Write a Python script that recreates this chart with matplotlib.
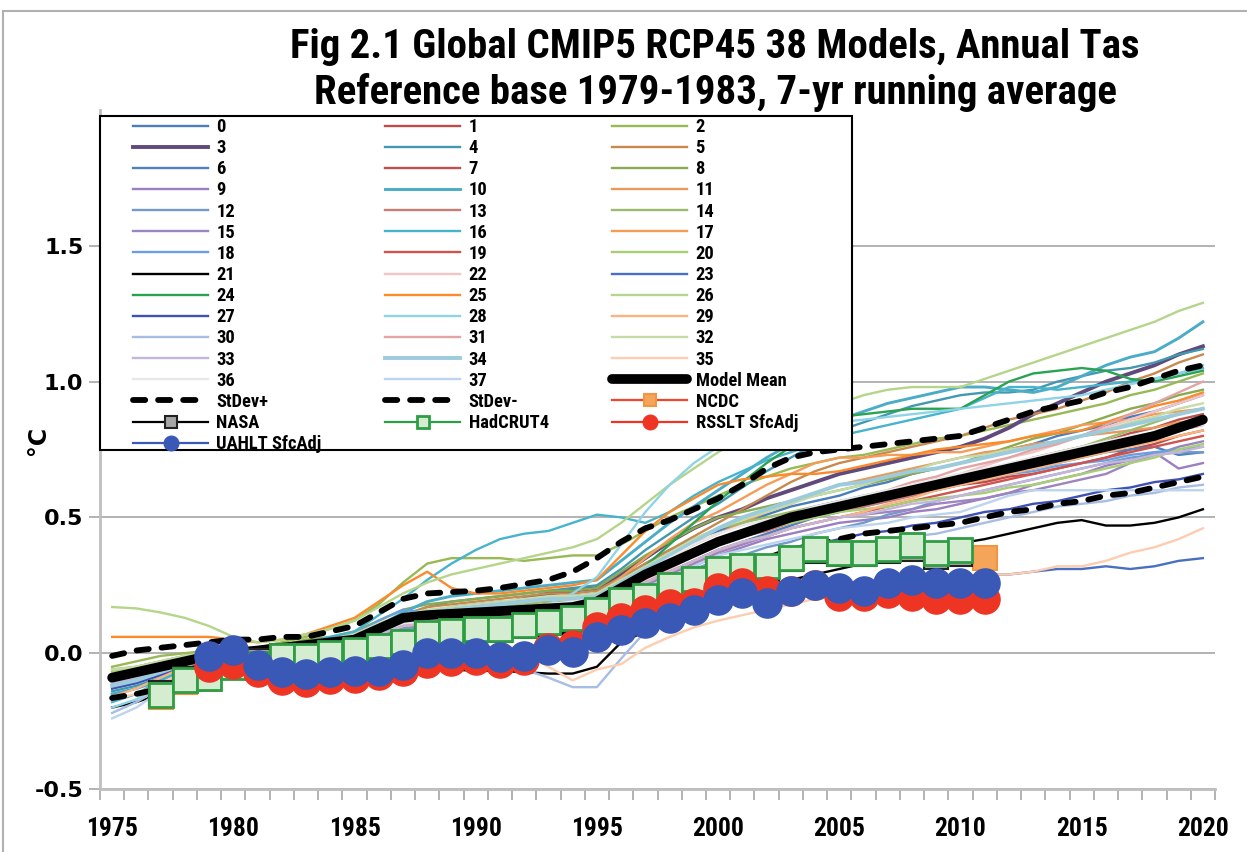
# Fig 2.1 Global CMIP5 RCP45 38 models vs observations
import numpy as np
import matplotlib
matplotlib.use('Agg')
import matplotlib.pyplot as plt
from matplotlib import font_manager
from matplotlib.patches import Rectangle
from matplotlib.lines import Line2D

years = list(range(1975, 2021))
sq_years = list(range(1977, 2011))     # NASA, HadCRUT4
ncdc_years = list(range(1977, 2012))
sat_years = list(range(1979, 2012))    # RSS, UAH

# ---- model runs (7-yr running mean, deg C) ----
m00 = [-0.12,-0.10,-0.07,-0.04,-0.02, 0.00,0.00,0.01,0.02,0.04, 0.06,0.09,0.13,0.15,0.17, 0.18,0.19,0.19,0.20,0.21,
       0.22,0.27,0.33,0.38,0.42, 0.45,0.48,0.51,0.54,0.56, 0.58,0.61,0.63,0.66,0.68, 0.70,0.72,0.75,0.77,0.80, 0.82,0.84,0.87,0.89,0.92, 0.95]
m01 = [-0.08,-0.07,-0.05,-0.03,-0.01, 0.01,0.01,0.00,0.01,0.02, 0.04,0.06,0.09,0.10,0.11, 0.12,0.13,0.15,0.16,0.17,
       0.18,0.23,0.28,0.33,0.38, 0.42,0.45,0.48,0.51,0.53, 0.55,0.56,0.58,0.59,0.61, 0.62,0.63,0.65,0.66,0.68, 0.70,0.72,0.75,0.77,0.80, 0.82]
m02 = [-0.05,-0.03,-0.01,0.00,0.01, 0.02,0.02,0.04,0.06,0.09, 0.12,0.18,0.26,0.33,0.35, 0.35,0.35,0.34,0.35,0.36,
       0.36,0.40,0.45,0.50,0.54, 0.58,0.62,0.65,0.68,0.70, 0.72,0.73,0.75,0.77,0.79, 0.80,0.82,0.84,0.86,0.88, 0.90,0.92,0.95,0.97,1.00, 1.03]
m03 = [-0.10,-0.09,-0.07,-0.05,-0.03, -0.01,0.00,0.01,0.02,0.03, 0.05,0.08,0.12,0.14,0.16, 0.17,0.18,0.20,0.22,0.23,
       0.24,0.29,0.35,0.41,0.46, 0.50,0.53,0.57,0.60,0.63, 0.66,0.68,0.70,0.72,0.74, 0.76,0.79,0.83,0.88,0.92, 0.96,1.00,1.03,1.06,1.10, 1.13]
m04 = [-0.14,-0.12,-0.09,-0.05,-0.02, 0.00,0.01,0.02,0.04,0.05, 0.07,0.10,0.14,0.17,0.19, 0.20,0.21,0.22,0.23,0.24,
       0.25,0.31,0.38,0.44,0.50, 0.55,0.61,0.67,0.72,0.77, 0.82,0.85,0.88,0.91,0.93, 0.95,0.96,0.96,0.97,1.00, 1.02,1.04,1.05,1.07,1.10, 1.12]
m05 = [-0.11,-0.09,-0.06,-0.03,-0.01, 0.01,0.01,0.02,0.03,0.04, 0.06,0.10,0.14,0.17,0.18, 0.19,0.20,0.21,0.22,0.22,
       0.23,0.28,0.33,0.38,0.43, 0.48,0.53,0.58,0.63,0.67, 0.70,0.72,0.74,0.76,0.78, 0.80,0.83,0.86,0.88,0.90, 0.93,0.96,1.00,1.03,1.07, 1.10]
m06 = [-0.09,-0.08,-0.06,-0.04,-0.02, -0.01,0.00,0.01,0.02,0.03, 0.04,0.07,0.10,0.12,0.13, 0.14,0.15,0.15,0.16,0.16,
       0.17,0.21,0.26,0.30,0.34, 0.38,0.41,0.44,0.47,0.50, 0.52,0.54,0.56,0.58,0.60, 0.62,0.64,0.66,0.68,0.70, 0.72,0.74,0.75,0.76,0.73, 0.74]
m07 = [-0.10,-0.08,-0.06,-0.04,-0.02, 0.00,0.00,0.01,0.02,0.03, 0.05,0.08,0.11,0.13,0.14, 0.15,0.16,0.17,0.18,0.19,
       0.20,0.24,0.28,0.32,0.36, 0.40,0.43,0.46,0.49,0.52, 0.54,0.56,0.58,0.61,0.63, 0.65,0.67,0.69,0.72,0.74, 0.76,0.78,0.81,0.83,0.86, 0.88]
m08 = [-0.06,-0.05,-0.03,-0.01,0.00, 0.01,0.02,0.03,0.05,0.06, 0.08,0.12,0.16,0.18,0.19, 0.20,0.21,0.22,0.23,0.23,
       0.24,0.30,0.36,0.41,0.46, 0.50,0.52,0.54,0.56,0.58, 0.60,0.62,0.64,0.66,0.68, 0.70,0.73,0.76,0.79,0.81, 0.84,0.87,0.90,0.92,0.95, 0.97]
m09 = [-0.12,-0.10,-0.08,-0.05,-0.03, -0.02,-0.01,0.00,0.01,0.02, 0.03,0.06,0.09,0.10,0.11, 0.12,0.13,0.14,0.15,0.15,
       0.16,0.20,0.24,0.28,0.32, 0.36,0.39,0.42,0.44,0.46, 0.48,0.49,0.50,0.52,0.53, 0.55,0.57,0.59,0.62,0.64, 0.66,0.69,0.71,0.74,0.68, 0.70]
m10 = [-0.15,-0.13,-0.10,-0.06,-0.03, 0.00,0.01,0.02,0.03,0.04, 0.06,0.10,0.15,0.19,0.21, 0.22,0.23,0.24,0.25,0.26,
       0.27,0.34,0.41,0.48,0.54, 0.60,0.66,0.72,0.77,0.82, 0.86,0.89,0.92,0.94,0.96, 0.98,0.98,0.97,0.96,0.98, 1.02,1.06,1.09,1.11,1.16, 1.22]
m11 = [-0.08,-0.07,-0.05,-0.03,-0.01, 0.01,0.01,0.02,0.03,0.04, 0.05,0.08,0.11,0.12,0.13, 0.14,0.15,0.16,0.17,0.18,
       0.19,0.24,0.30,0.35,0.40, 0.44,0.48,0.52,0.55,0.59, 0.62,0.64,0.66,0.68,0.70, 0.72,0.74,0.75,0.77,0.78, 0.80,0.81,0.82,0.83,0.85, 0.86]
m12 = [-0.13,-0.11,-0.08,-0.05,-0.03, -0.01,0.00,0.00,0.01,0.02, 0.03,0.06,0.09,0.10,0.11, 0.12,0.13,0.13,0.14,0.14,
       0.15,0.19,0.23,0.27,0.31, 0.34,0.36,0.39,0.41,0.44, 0.46,0.48,0.51,0.53,0.56, 0.58,0.60,0.62,0.64,0.66, 0.68,0.70,0.72,0.73,0.74, 0.74]
m13 = [-0.09,-0.08,-0.06,-0.04,-0.02, 0.00,0.00,0.01,0.02,0.03, 0.05,0.08,0.12,0.14,0.15, 0.16,0.17,0.17,0.18,0.18,
       0.19,0.23,0.28,0.32,0.36, 0.40,0.43,0.45,0.48,0.50, 0.52,0.54,0.56,0.58,0.60, 0.62,0.64,0.67,0.69,0.72, 0.74,0.76,0.78,0.80,0.82, 0.84]
m14 = [-0.07,-0.06,-0.04,-0.02,-0.01, 0.01,0.01,0.02,0.03,0.04, 0.06,0.09,0.12,0.14,0.15, 0.16,0.17,0.18,0.19,0.19,
       0.20,0.26,0.32,0.37,0.42, 0.46,0.48,0.50,0.52,0.54, 0.56,0.57,0.59,0.61,0.62, 0.64,0.66,0.69,0.71,0.74, 0.76,0.79,0.82,0.85,0.88, 0.90]
m15 = [-0.11,-0.09,-0.07,-0.04,-0.02, -0.01,0.00,0.01,0.02,0.03, 0.04,0.07,0.10,0.11,0.12, 0.13,0.14,0.15,0.16,0.16,
       0.17,0.21,0.25,0.29,0.33, 0.37,0.40,0.43,0.46,0.48, 0.50,0.51,0.52,0.53,0.55, 0.56,0.57,0.59,0.60,0.62, 0.64,0.66,0.70,0.73,0.76, 0.78]
m16 = [-0.18,-0.15,-0.10,-0.06,-0.03, 0.00,0.02,0.03,0.04,0.06, 0.08,0.14,0.20,0.27,0.33, 0.38,0.42,0.44,0.45,0.48,
       0.51,0.50,0.48,0.52,0.58, 0.63,0.67,0.71,0.74,0.77, 0.80,0.82,0.84,0.86,0.88, 0.90,0.94,0.98,0.98,0.97, 0.98,0.99,1.00,1.01,1.03, 1.05]
m17 = [-0.10,-0.08,-0.06,-0.03,-0.01, 0.01,0.01,0.02,0.04,0.05, 0.06,0.10,0.14,0.15,0.16, 0.17,0.18,0.19,0.20,0.20,
       0.21,0.28,0.35,0.42,0.48, 0.52,0.57,0.62,0.66,0.70, 0.72,0.72,0.73,0.73,0.74, 0.74,0.76,0.78,0.80,0.82, 0.84,0.85,0.86,0.88,0.89, 0.90]
m18 = [-0.11,-0.09,-0.06,-0.04,-0.02, 0.00,0.01,0.02,0.04,0.05, 0.07,0.12,0.16,0.15,0.15, 0.16,0.17,0.17,0.18,0.18,
       0.19,0.24,0.29,0.33,0.38, 0.42,0.45,0.48,0.51,0.54, 0.56,0.58,0.59,0.61,0.62, 0.64,0.65,0.66,0.67,0.69, 0.70,0.71,0.73,0.74,0.75, 0.76]
m19 = [-0.09,-0.07,-0.05,-0.03,-0.01, 0.00,0.00,0.01,0.02,0.03, 0.04,0.07,0.10,0.12,0.13, 0.14,0.15,0.16,0.17,0.17,
       0.18,0.22,0.26,0.30,0.34, 0.38,0.41,0.43,0.46,0.48, 0.50,0.52,0.54,0.56,0.58, 0.60,0.62,0.64,0.66,0.68, 0.70,0.72,0.74,0.76,0.78, 0.80]
m20 = [-0.07,-0.05,-0.03,-0.01,0.01, 0.02,0.02,0.03,0.04,0.05, 0.06,0.09,0.12,0.13,0.14, 0.15,0.16,0.17,0.18,0.18,
       0.19,0.23,0.28,0.32,0.36, 0.40,0.43,0.46,0.48,0.50, 0.52,0.53,0.54,0.56,0.57, 0.58,0.59,0.61,0.62,0.64, 0.66,0.68,0.70,0.72,0.75, 0.77]
m21 = [-0.20,-0.18,-0.15,-0.10,-0.06, -0.03,-0.02,-0.03,-0.02,-0.02, -0.02,-0.03,-0.04,-0.04,-0.06, -0.065,-0.065,-0.07,-0.075,-0.075,
       -0.05,0.04,0.08,0.12,0.16, 0.20,0.23,0.25,0.27,0.29, 0.31,0.33,0.35,0.37,0.39, 0.405,0.42,0.44,0.46,0.48, 0.49,0.47,0.47,0.48,0.50, 0.53]
m22 = [-0.08,-0.06,-0.04,-0.03,-0.01, 0.00,0.01,0.01,0.02,0.03, 0.05,0.08,0.11,0.12,0.13, 0.14,0.15,0.16,0.17,0.17,
       0.18,0.22,0.27,0.31,0.36, 0.40,0.43,0.46,0.49,0.51, 0.54,0.56,0.59,0.61,0.64, 0.66,0.69,0.72,0.74,0.77, 0.80,0.83,0.86,0.89,0.92, 0.95]
m23 = [-0.12,-0.10,-0.07,-0.05,-0.03, -0.01,0.00,0.00,0.01,0.01, 0.02,0.03,0.04,0.05,0.05, 0.06,0.06,0.07,0.07,0.08,
       0.08,0.10,0.13,0.15,0.17, 0.19,0.20,0.21,0.22,0.24, 0.25,0.26,0.26,0.27,0.27, 0.28,0.29,0.29,0.30,0.31, 0.31,0.32,0.31,0.32,0.34, 0.35]
m24 = [-0.10,-0.08,-0.06,-0.03,-0.01, 0.01,0.01,0.02,0.03,0.04, 0.05,0.09,0.13,0.15,0.16, 0.17,0.17,0.17,0.17,0.17,
       0.18,0.24,0.32,0.40,0.48, 0.56,0.63,0.70,0.76,0.82, 0.87,0.88,0.89,0.90,0.90, 0.90,0.95,1.00,1.03,1.04, 1.05,1.04,1.01,1.00,1.02, 1.04]
m25 = [0.06,0.06,0.06,0.06,0.06, 0.05,0.04,0.05,0.07,0.10, 0.13,0.19,0.25,0.30,0.24, 0.22,0.22,0.23,0.24,0.25,
       0.27,0.36,0.45,0.52,0.57, 0.62,0.64,0.65,0.66,0.66, 0.67,0.69,0.71,0.73,0.75, 0.76,0.77,0.78,0.80,0.81, 0.82,0.85,0.88,0.91,0.93, 0.96]
m26 = [0.17,0.165,0.15,0.13,0.10, 0.06,0.04,0.05,0.07,0.09, 0.12,0.17,0.22,0.26,0.29, 0.31,0.33,0.35,0.37,0.39,
       0.42,0.48,0.55,0.62,0.68, 0.74,0.79,0.83,0.86,0.89, 0.92,0.95,0.97,0.98,0.98, 0.98,1.01,1.04,1.07,1.10, 1.13,1.16,1.19,1.22,1.26, 1.29]
m27 = [-0.13,-0.11,-0.08,-0.05,-0.03, -0.01,0.00,0.00,0.01,0.02, 0.03,0.05,0.07,0.08,0.09, 0.10,0.11,0.12,0.12,0.13,
       0.14,0.17,0.20,0.24,0.27, 0.30,0.32,0.35,0.37,0.40, 0.42,0.44,0.45,0.47,0.48, 0.50,0.52,0.53,0.55,0.56, 0.58,0.60,0.61,0.63,0.64, 0.66]
m28 = [-0.20,-0.17,-0.12,-0.07,-0.03, 0.00,0.01,0.02,0.03,0.04, 0.05,0.08,0.11,0.12,0.12, 0.13,0.14,0.16,0.18,0.22,
       0.28,0.40,0.52,0.62,0.70, 0.76,0.79,0.81,0.83,0.84, 0.85,0.86,0.87,0.88,0.89, 0.90,0.91,0.92,0.93,0.94, 0.95,0.97,0.99,1.01,1.03, 1.06]
m29 = [-0.16,-0.13,-0.09,-0.05,-0.02, 0.00,0.01,0.01,0.02,0.03, 0.04,0.07,0.10,0.11,0.12, 0.13,0.14,0.15,0.16,0.16,
       0.17,0.21,0.26,0.30,0.34, 0.38,0.41,0.43,0.46,0.48, 0.50,0.52,0.55,0.57,0.60, 0.62,0.64,0.66,0.68,0.70, 0.72,0.74,0.76,0.78,0.80, 0.82]
m30 = [-0.22,-0.18,-0.13,-0.08,-0.04, -0.02,-0.01,0.00,0.01,0.02, 0.02,0.03,0.03,0.02,0.01, 0.00,-0.03,-0.06,-0.09,-0.125,
       -0.125,-0.02,0.08,0.14,0.19, 0.24,0.27,0.30,0.33,0.36, 0.38,0.40,0.41,0.43,0.44, 0.46,0.48,0.50,0.52,0.54, 0.55,0.56,0.58,0.59,0.61, 0.62]
m31 = [-0.09,-0.07,-0.05,-0.03,-0.01, 0.00,0.01,0.01,0.02,0.03, 0.05,0.08,0.11,0.13,0.14, 0.15,0.16,0.16,0.17,0.17,
       0.18,0.23,0.28,0.33,0.38, 0.42,0.45,0.48,0.50,0.53, 0.55,0.58,0.60,0.63,0.65, 0.68,0.70,0.72,0.75,0.77, 0.80,0.84,0.88,0.92,0.96, 1.00]
m32 = [-0.06,-0.05,-0.03,-0.01,0.00, 0.01,0.02,0.03,0.04,0.05, 0.07,0.11,0.14,0.16,0.17, 0.18,0.19,0.20,0.21,0.21,
       0.22,0.27,0.32,0.37,0.42, 0.46,0.49,0.52,0.55,0.58, 0.60,0.62,0.65,0.67,0.70, 0.72,0.73,0.75,0.76,0.78, 0.80,0.82,0.85,0.87,0.90, 0.92]
m33 = [-0.11,-0.09,-0.07,-0.04,-0.02, -0.01,0.00,0.01,0.02,0.03, 0.04,0.07,0.10,0.12,0.13, 0.14,0.15,0.16,0.17,0.17,
       0.18,0.22,0.26,0.30,0.34, 0.38,0.41,0.43,0.46,0.48, 0.50,0.51,0.53,0.55,0.56, 0.58,0.60,0.62,0.64,0.66, 0.68,0.70,0.71,0.73,0.74, 0.76]
m34 = [-0.12,-0.10,-0.07,-0.04,-0.02, 0.00,0.01,0.02,0.03,0.04, 0.06,0.10,0.14,0.15,0.16, 0.17,0.18,0.19,0.20,0.20,
       0.21,0.26,0.31,0.36,0.41, 0.46,0.50,0.53,0.56,0.59, 0.62,0.63,0.65,0.67,0.68, 0.70,0.72,0.74,0.76,0.78, 0.80,0.82,0.84,0.86,0.88, 0.90]
m35 = [-0.17,-0.15,-0.11,-0.07,-0.04, -0.02,-0.01,0.00,0.01,0.01, 0.02,0.03,0.04,0.05,0.05, 0.06,0.04,0.00,-0.05,-0.10,
       -0.06,-0.04,0.02,0.06,0.095, 0.12,0.14,0.16,0.18,0.20, 0.21,0.22,0.23,0.24,0.26, 0.27,0.29,0.29,0.30,0.32, 0.32,0.34,0.37,0.39,0.42, 0.46]
m36 = [-0.10,-0.08,-0.06,-0.04,-0.02, 0.00,0.01,0.01,0.02,0.03, 0.05,0.08,0.11,0.12,0.13, 0.14,0.15,0.16,0.18,0.19,
       0.20,0.25,0.30,0.35,0.40, 0.44,0.47,0.49,0.51,0.54, 0.56,0.58,0.60,0.62,0.64, 0.66,0.68,0.70,0.72,0.74, 0.76,0.78,0.80,0.81,0.83, 0.84]
m37 = [-0.24,-0.20,-0.14,-0.08,-0.04, -0.01,0.00,0.01,0.02,0.02, 0.03,0.05,0.07,0.08,0.09, 0.12,0.13,0.13,0.14,0.15,
       0.16,0.20,0.24,0.28,0.32, 0.36,0.38,0.40,0.42,0.44, 0.46,0.47,0.48,0.50,0.51, 0.52,0.55,0.58,0.60,0.60, 0.60,0.60,0.60,0.60,0.60, 0.60]

model_mean = [-0.09,-0.07,-0.05,-0.03,-0.01, 0.00,0.01,0.02,0.03,0.04, 0.05,0.09,0.13,0.14,0.145, 0.15,0.155,0.16,0.165,0.17,
              0.19,0.24,0.29,0.33,0.37, 0.41,0.44,0.47,0.50,0.52, 0.54,0.56,0.58,0.60,0.62, 0.64,0.66,0.68,0.70,0.72, 0.74,0.76,0.78,0.80,0.83, 0.86]
stdev_plus = [-0.01,0.01,0.02,0.03,0.04, 0.05,0.05,0.06,0.06,0.08, 0.10,0.15,0.20,0.22,0.225, 0.23,0.24,0.255,0.27,0.30,
              0.35,0.41,0.46,0.49,0.53, 0.57,0.62,0.68,0.72,0.74, 0.75,0.76,0.77,0.78,0.79, 0.80,0.83,0.86,0.89,0.91, 0.93,0.96,0.98,1.01,1.04, 1.06]
stdev_minus = [-0.165,-0.15,-0.13,-0.11,-0.08, -0.06,-0.05,-0.04,-0.03,-0.02, -0.01,0.02,0.05,0.06,0.065, 0.07,0.07,0.07,0.07,0.08,
               0.10,0.14,0.18,0.22,0.26, 0.29,0.32,0.35,0.38,0.40, 0.42,0.44,0.45,0.46,0.47, 0.48,0.50,0.52,0.53,0.55, 0.56,0.58,0.59,0.61,0.63, 0.65]

# ---- observations ----
ncdc = [-0.16,-0.105,-0.095,-0.05,-0.045,-0.015,-0.015,-0.005,0.005,0.02,0.035,0.07,0.075,0.085,0.085,0.10,0.11,0.125,0.155,0.19,
        0.205,0.245,0.27,0.305,0.315,0.315,0.345,0.38,0.365,0.365,0.38,0.39,0.365,0.375,0.35]
nasa = [-0.145,-0.095,-0.085,-0.04,-0.03,-0.01,-0.01,-0.005,0.005,0.02,0.035,0.07,0.075,0.085,0.085,0.10,0.11,0.125,0.155,0.19,
        0.205,0.245,0.27,0.30,0.31,0.315,0.345,0.375,0.365,0.365,0.375,0.385,0.355,0.365]
hadcrut4 = [-0.155,-0.10,-0.09,-0.05,-0.04,-0.01,-0.01,0.00,0.01,0.025,0.04,0.075,0.08,0.09,0.09,0.105,0.115,0.13,0.16,0.195,
            0.21,0.25,0.275,0.31,0.32,0.32,0.35,0.385,0.37,0.37,0.385,0.40,0.37,0.38]
rss = [-0.05,-0.04,-0.07,-0.10,-0.105,-0.095,-0.09,-0.08,-0.065,-0.035,-0.03,-0.025,-0.035,-0.025,0.02,0.03,0.095,0.13,0.16,0.18,
       0.185,0.24,0.26,0.23,0.23,0.25,0.21,0.21,0.22,0.21,0.20,0.20,0.20]
uah = [-0.01,0.01,-0.045,-0.07,-0.075,-0.07,-0.065,-0.065,-0.045,0.0,0.0,0.0,-0.015,-0.01,0.01,0.005,0.06,0.085,0.11,0.13,
       0.16,0.195,0.22,0.185,0.23,0.25,0.24,0.23,0.26,0.27,0.26,0.26,0.26]

models = [m00, m01, m02, m03, m04, m05, m06, m07, m08, m09, m10, m11, m12, m13, m14, m15, m16, m17, m18, m19,
          m20, m21, m22, m23, m24, m25, m26, m27, m28, m29, m30, m31, m32, m33, m34, m35, m36, m37]

model_colors = ['#4a7ebb', '#be4b48', '#98b954', '#604a7b', '#4198af', '#c8894e',
                '#4f81bd', '#c0504d', '#8aab4f', '#9b7fc0', '#4bacc6', '#e89a5c',
                '#729aca', '#c97b78', '#9dbb6c', '#9d85c0', '#46b4cc', '#f59d56',
                '#6a9fe0', '#d0534f', '#a9cf74', '#000000', '#f2c4c4', '#4a6fc0',
                '#29a351', '#fb8a2c', '#b5d58b', '#3f51b5', '#8fd3e6', '#f9b47f',
                '#a7bde3', '#e2a4a4', '#c5dca8', '#c4b6da', '#9cccdc', '#fccdb0',
                '#e8e8e8', '#bcd4ee']
model_lw = [1.7] * 38
model_lw[3] = 2.8
model_lw[34] = 2.8
model_lw[10] = 2.1

# narrow bold font close to Calibri if we have one
avail = {f.name for f in font_manager.fontManager.ttflist}
narrow = next((f for f in ['Liberation Sans Narrow', 'Roboto Condensed', 'Open Sans Condensed', 'Roboto']
               if f in avail), 'DejaVu Sans')

W, H = 1247, 852
fig = plt.figure(figsize=(W / 100, H / 100), dpi=100)
ax = fig.add_axes([100 / W, 1 - 789 / H, 1115 / W, 679 / H])

for i, vals in enumerate(models):
    ax.plot(years, vals, color=model_colors[i], lw=model_lw[i], label=str(i))

ax.plot(years, model_mean, color='black', lw=7, solid_capstyle='round', label='Model Mean')
ax.plot(years, stdev_plus, color='black', lw=4.2, ls=(0, (2.1, 2.2)), dash_capstyle='round', label='StDev+')
ax.plot(years, stdev_minus, color='black', lw=4.2, ls=(0, (2.1, 2.2)), dash_capstyle='round', label='StDev-')

ax.plot(ncdc_years, ncdc, color='#f0452d', lw=1.6, marker='s', ms=17.5, mfc='#f5a55a', mec='#f29440', mew=1.5, label='NCDC')
ax.plot(sq_years, nasa, color='black', lw=1.6, marker='s', ms=17.5, mfc='#a6a6a6', mec='#222222', mew=1.5, label='NASA')
ax.plot(sq_years, hadcrut4, color='#2e9e45', lw=1.6, marker='s', ms=17.5, mfc='#d4ecd0', mec='#2e9e45', mew=2, label='HadCRUT4')
ax.plot(sat_years, rss, color='#ee3524', lw=1.6, marker='o', ms=21, mfc='#ee3524', mec='#ee3524', label='RSSLT SfcAdj')
ax.plot(sat_years, uah, color='#3a58b5', lw=1.6, marker='o', ms=21, mfc='#3a58b5', mec='#3a58b5', label='UAHLT SfcAdj')

ax.set_xlim(1974.5, 2020.5)
ax.set_ylim(-0.5, 2.0)
ax.set_yticks([-0.5, 0.0, 0.5, 1.0, 1.5])
ax.set_yticklabels(['-0.5', '0.0', '0.5', '1.0', '1.5'])
ax.set_xticks(range(1975, 2021, 5))
ax.set_xticks(np.arange(1974.5, 2021, 1), minor=True)
ax.tick_params(axis='x', which='major', length=0, pad=20)
ax.tick_params(axis='x', which='minor', length=8, width=1.2, color='#a6a6a6')
ax.tick_params(axis='y', length=8, width=1.2, color='#a6a6a6', pad=4, labelsize=16)
for lab in ax.get_yticklabels():
    lab.set_fontweight('bold')
ax.grid(axis='y', color='#a6a6a6', lw=1.2)
ax.set_axisbelow(True)
for s in ['top', 'right']:
    ax.spines[s].set_visible(False)
for s in ['left', 'bottom']:
    ax.spines[s].set_color('#bfbfbf')
    ax.spines[s].set_linewidth(2)

# size the narrow font by the width of the original texts
def fit_size(text, target_px, start=20):
    t = fig.text(0, 0, text, fontsize=start, family=narrow, fontweight='bold')
    w = t.get_window_extent(renderer=fig.canvas.get_renderer()).width
    t.remove()
    return start * target_px / w

xt_size = fit_size('1975', 52)
for lab in ax.get_xticklabels():
    lab.set_fontfamily(narrow)
    lab.set_fontweight('bold')
    lab.set_fontsize(xt_size)

title_size = fit_size('Fig 2.1 Global CMIP5 RCP45 38 Models, Annual Tas', 850, 26)
fig.text(715 / W, 1 - 47 / H, 'Fig 2.1 Global CMIP5 RCP45 38 Models, Annual Tas', ha='center', va='center',
         fontsize=title_size, family=narrow, fontweight='bold')
fig.text(715 / W, 1 - 93 / H, 'Reference base 1979-1983, 7-yr running average', ha='center', va='center',
         fontsize=title_size, family=narrow, fontweight='bold')
fig.text(38 / W, 1 - 440 / H, '°C', rotation=90, ha='center', va='center', fontsize=17, fontweight='bold')

# legend: Excel fills rows first, matplotlib fills columns
leg_size = fit_size('Model Mean', 91, 11)
handles, labels = ax.get_legend_handles_labels()
order = [i for c in range(3) for i in range(c, len(handles), 3)]
fig.add_artist(Rectangle((100 / W, 1 - 450 / H), 752 / W, 334 / H, transform=fig.transFigure,
                         facecolor='white', edgecolor='black', lw=1.5, zorder=2))
leg = fig.legend([handles[i] for i in order], [labels[i] for i in order], ncol=3, loc='upper left',
                 bbox_to_anchor=(133 / W, 1 - 448 / H, 665 / W, 330 / H), mode='expand', borderaxespad=0,
                 borderpad=0, frameon=False, handlelength=75 / (leg_size * 100 / 72), handletextpad=0.45,
                 labelspacing=0.17, markerscale=0.5, prop={'family': narrow, 'weight': 'bold', 'size': leg_size})
leg.set_zorder(5)

# light grey chart-area border (top and left)
fig.add_artist(Line2D([3 / W, 1], [1 - 11 / H, 1 - 11 / H], transform=fig.transFigure, color='#b0b0b0', lw=1.5))
fig.add_artist(Line2D([3 / W, 3 / W], [0, 1 - 11 / H], transform=fig.transFigure, color='#b0b0b0', lw=1.5))

fig.savefig('out.png', dpi=100)
